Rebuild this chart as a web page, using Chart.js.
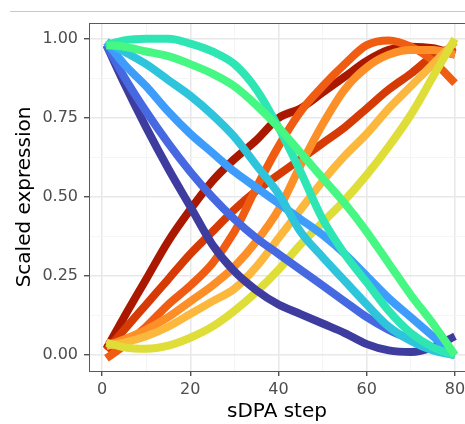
<!DOCTYPE html>
<html>
<head>
<meta charset="utf-8">
<script src="https://cdn.jsdelivr.net/npm/chart.js@4.4.1/dist/chart.umd.min.js"></script>
<style>
	html, body { margin: 0; padding: 0; background: #fff; overflow: hidden; }
</style>
</head>
<body>
<canvas id="myChart" width="465" height="424"></canvas>
<script>
var steps = [1, 5, 10, 15, 20, 25, 30, 35, 40, 45, 50, 55, 60, 65, 70, 75, 80];

var navy = [0.98, 0.86, 0.72, 0.59, 0.47, 0.35, 0.265, 0.205, 0.16, 0.13, 0.10, 0.07, 0.035, 0.015, 0.01, 0.025, 0.06];
var royal = [0.98, 0.88, 0.77, 0.67, 0.58, 0.50, 0.43, 0.37, 0.32, 0.27, 0.22, 0.17, 0.12, 0.08, 0.05, 0.025, 0.0];
var lightBlue = [0.99, 0.92, 0.85, 0.77, 0.70, 0.64, 0.58, 0.53, 0.48, 0.43, 0.38, 0.32, 0.25, 0.18, 0.12, 0.06, 0.0];
var cyan = [0.99, 0.96, 0.92, 0.87, 0.82, 0.76, 0.69, 0.60, 0.51, 0.39, 0.31, 0.235, 0.16, 0.09, 0.045, 0.015, 0.0];
var teal = [0.98, 0.995, 1.0, 1.0, 0.985, 0.96, 0.92, 0.84, 0.72, 0.58, 0.43, 0.32, 0.23, 0.14, 0.07, 0.025, 0.0];
var green = [0.98, 0.975, 0.96, 0.945, 0.92, 0.89, 0.85, 0.79, 0.72, 0.64, 0.56, 0.48, 0.39, 0.29, 0.19, 0.10, 0.0];
var yellow = [0.04, 0.025, 0.02, 0.03, 0.055, 0.09, 0.14, 0.20, 0.27, 0.35, 0.42, 0.49, 0.57, 0.66, 0.76, 0.88, 1.0];
var lightOrange = [0.03, 0.04, 0.06, 0.09, 0.13, 0.17, 0.21, 0.28, 0.37, 0.46, 0.55, 0.63, 0.70, 0.78, 0.85, 0.92, 0.99];
var orange = [0.03, 0.05, 0.08, 0.12, 0.17, 0.22, 0.28, 0.36, 0.46, 0.60, 0.73, 0.84, 0.91, 0.95, 0.965, 0.965, 0.95];
var orangeRed = [-0.01, 0.03, 0.09, 0.16, 0.22, 0.29, 0.39, 0.53, 0.66, 0.77, 0.85, 0.92, 0.98, 0.995, 0.975, 0.93, 0.86];
var redOrange = [0.015, 0.08, 0.16, 0.24, 0.32, 0.39, 0.46, 0.52, 0.57, 0.62, 0.67, 0.72, 0.78, 0.84, 0.89, 0.945, 0.975];
var darkRed = [0.02, 0.12, 0.24, 0.36, 0.46, 0.55, 0.62, 0.68, 0.75, 0.78, 0.83, 0.88, 0.93, 0.965, 0.975, 0.97, 0.95];

// first entry is drawn on top
var series = [green, teal, cyan, lightBlue, royal, navy, yellow, lightOrange, orange, orangeRed, redOrange, darkRed];
var colors = ['#47f783', '#2ee6b4', '#2ec5dc', '#3e9dfa', '#4669e2', '#3e3c9e', '#dfdd37', '#fbb83c', '#fd8f28', '#f05d12', '#d63a05', '#ab1800'];

var xGrid = [0, 10, 20, 30, 40, 50, 60, 70, 80];
var yGrid = [0, 0.125, 0.25, 0.375, 0.5, 0.625, 0.75, 0.875, 1];

function isMajorX(v) { return v % 20 === 0; }
function isMajorY(v) { return Math.abs(v * 4 - Math.round(v * 4)) < 1e-6; }

var frame = {
	id: 'frame',
	beforeDraw: function(chart) {
		var ctx = chart.ctx;
		ctx.save();
		ctx.fillStyle = '#ffffff';
		ctx.fillRect(0, 0, chart.width, chart.height);
		ctx.strokeStyle = '#c8c8c8';
		ctx.lineWidth = 1;
		ctx.beginPath();
		ctx.moveTo(10, 11.5);
		ctx.lineTo(chart.width, 11.5);
		ctx.stroke();
		ctx.restore();
	},
	afterDraw: function(chart) {
		var a = chart.chartArea;
		var ctx = chart.ctx;
		ctx.save();
		ctx.strokeStyle = '#5a5a5a';
		ctx.lineWidth = 1;
		ctx.beginPath();
		ctx.moveTo(a.left, a.top + 0.5);
		ctx.lineTo(a.right, a.top + 0.5);
		ctx.stroke();
		ctx.restore();
	}
};

var datasets = series.map(function(arr, i) {
	return {
		data: steps.map(function(s, j) { return {x: s, y: arr[j]}; }),
		borderColor: colors[i],
		backgroundColor: colors[i],
		borderWidth: 8,
		borderCapStyle: 'butt',
		borderJoinStyle: 'round',
		cubicInterpolationMode: 'monotone',
		pointRadius: 0,
		fill: false
	};
});

var ctx = document.getElementById('myChart');
var myChart = new Chart(ctx, {
	type: 'line',
	data: { datasets: datasets },
	plugins: [frame],
	options: {
		responsive: false,
		animation: false,
		layout: { padding: { top: 23, right: 0, left: 0, bottom: 0 } },
		plugins: { legend: { display: false }, tooltip: { enabled: false } },
		scales: {
			x: {
				type: 'linear',
				min: -2.95,
				max: 82.27,
				afterBuildTicks: function(axis) { axis.ticks = xGrid.map(function(v) { return {value: v}; }); },
				afterFit: function(axis) { axis.height = 53; axis.paddingLeft = 0; axis.paddingRight = 0; },
				grid: {
					color: function(c) { return isMajorX(c.tick.value) ? '#e8e8e8' : '#f3f3f3'; },
					lineWidth: function(c) { return isMajorX(c.tick.value) ? 1.5 : 0.8; },
					tickColor: function(c) { return isMajorX(c.tick.value) ? '#333333' : 'rgba(0,0,0,0)'; },
					tickWidth: 1.2,
					tickLength: 5
				},
				border: { display: true, color: '#5a5a5a', width: 1 },
				ticks: {
					autoSkip: false,
					maxRotation: 0,
					padding: 4,
					color: '#4d4d4d',
					font: { family: 'DejaVu Sans', size: 16 },
					callback: function(v) { return isMajorX(v) ? String(v) : ''; }
				},
				title: {
					display: true,
					text: 'sDPA step',
					color: '#000000',
					font: { family: 'DejaVu Sans', size: 20 },
					padding: { top: 0, bottom: 0 }
				}
			},
			y: {
				type: 'linear',
				min: -0.05,
				max: 1.05,
				afterBuildTicks: function(axis) { axis.ticks = yGrid.map(function(v) { return {value: v}; }); },
				afterFit: function(axis) { axis.width = 89; axis.paddingTop = 0; axis.paddingBottom = 0; },
				grid: {
					color: function(c) { return isMajorY(c.tick.value) ? '#e8e8e8' : '#f3f3f3'; },
					lineWidth: function(c) { return isMajorY(c.tick.value) ? 1.5 : 0.8; },
					tickColor: function(c) { return isMajorY(c.tick.value) ? '#333333' : 'rgba(0,0,0,0)'; },
					tickWidth: 1.2,
					tickLength: 5
				},
				border: { display: true, color: '#5a5a5a', width: 1 },
				ticks: {
					autoSkip: false,
					padding: 6,
					color: '#4d4d4d',
					font: { family: 'DejaVu Sans', size: 16 },
					callback: function(v) { return isMajorY(v) ? v.toFixed(2) : ''; }
				},
				title: {
					display: true,
					text: 'Scaled expression',
					color: '#000000',
					font: { family: 'DejaVu Sans', size: 20 },
					padding: { top: 13, bottom: 0 }
				}
			}
		}
	}
});
</script>
</body>
</html>
